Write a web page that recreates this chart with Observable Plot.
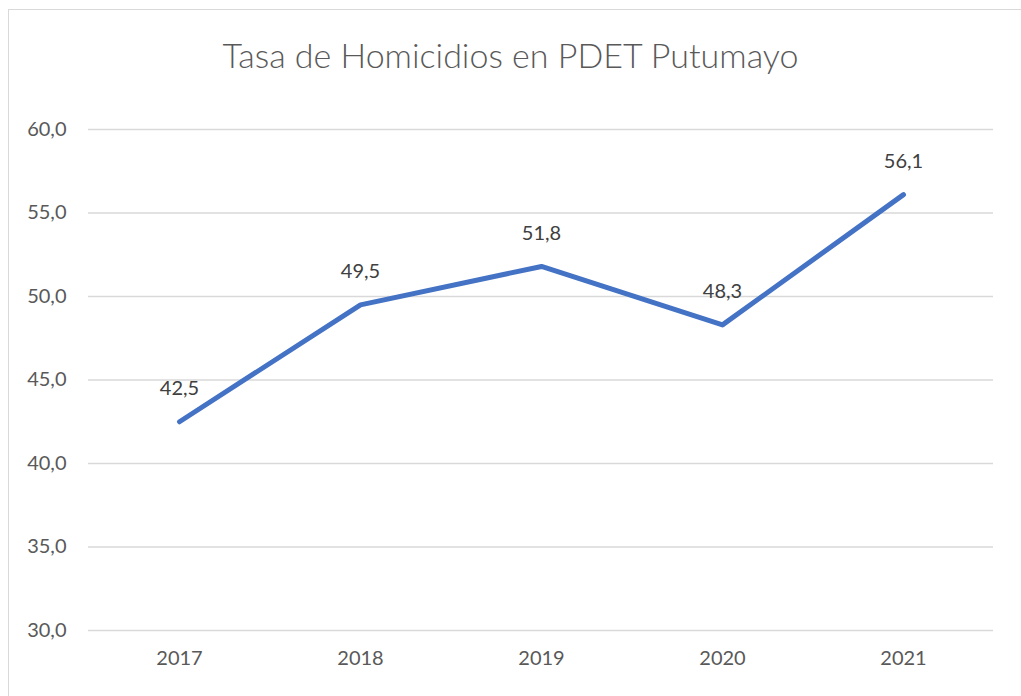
<!DOCTYPE html>
<html>
<head>
<meta charset="utf-8">
<script src="https://cdn.jsdelivr.net/npm/d3@7"></script>
<script src="https://cdn.jsdelivr.net/npm/@observablehq/plot@0.6"></script>
<style>
  html, body { margin: 0; padding: 0; background: #fff; }
  body { width: 1021px; height: 696px; overflow: hidden; position: relative; font-family: Lato, "Open Sans", sans-serif; }
  #frame { position: absolute; left: 8px; top: 9px; width: 1013px; height: 687px; border-left: 1.5px solid #d9d9d9; border-top: 1.5px solid #d9d9d9; box-sizing: border-box; }
  #title { position: absolute; left: 0; top: 0; width: 1021px; height: 100px; text-align: center; line-height: 110px; font-size: 34px; font-weight: 300; color: #595959; }
  #chart { position: absolute; left: 0; top: 100px; }
</style>
</head>
<body>
<div id="frame"></div>
<div id="title">Tasa de Homicidios en PDET Putumayo</div>
<div id="chart"></div>
<script>
const years = ["2017", "2018", "2019", "2020", "2021"];
const rates = [42.5, 49.5, 51.8, 48.3, 56.1];
const yTicks = [30, 35, 40, 45, 50, 55, 60];

const data = years.map((y, i) => ({year: y, rate: rates[i]}));
const fmt = v => v.toFixed(1).replace(".", ",");

const chart = Plot.plot({
  width: 1021,
  height: 596,
  marginLeft: 88,
  marginRight: 28,
  marginTop: 29,
  marginBottom: 66,
  style: {fontFamily: "Lato, 'Open Sans', sans-serif", fontSize: "20px", color: "#595959", background: "transparent"},
  x: {type: "point", domain: years, padding: 0.5, label: null},
  y: {domain: [30, 60], label: null},
  marks: [
    Plot.gridY(yTicks, {stroke: "#d9d9d9", strokeOpacity: 1, strokeWidth: 1.5}),
    Plot.axisY(yTicks, {tickSize: 0, tickPadding: 22, tickFormat: fmt, label: null, fill: "#595959", fontSize: 20}),
    Plot.axisX(years, {tickSize: 0, tickPadding: 20, label: null, fill: "#595959", fontSize: 20}),
    Plot.line(data, {x: "year", y: "rate", stroke: "#4472c4", strokeWidth: 5, strokeLinecap: "round", strokeLinejoin: "round"}),
    Plot.text(data, {x: "year", y: "rate", text: d => fmt(d.rate), dy: -33, fill: "#404040", fontSize: 20})
  ]
});
document.getElementById("chart").appendChild(chart);
</script>
</body>
</html>
